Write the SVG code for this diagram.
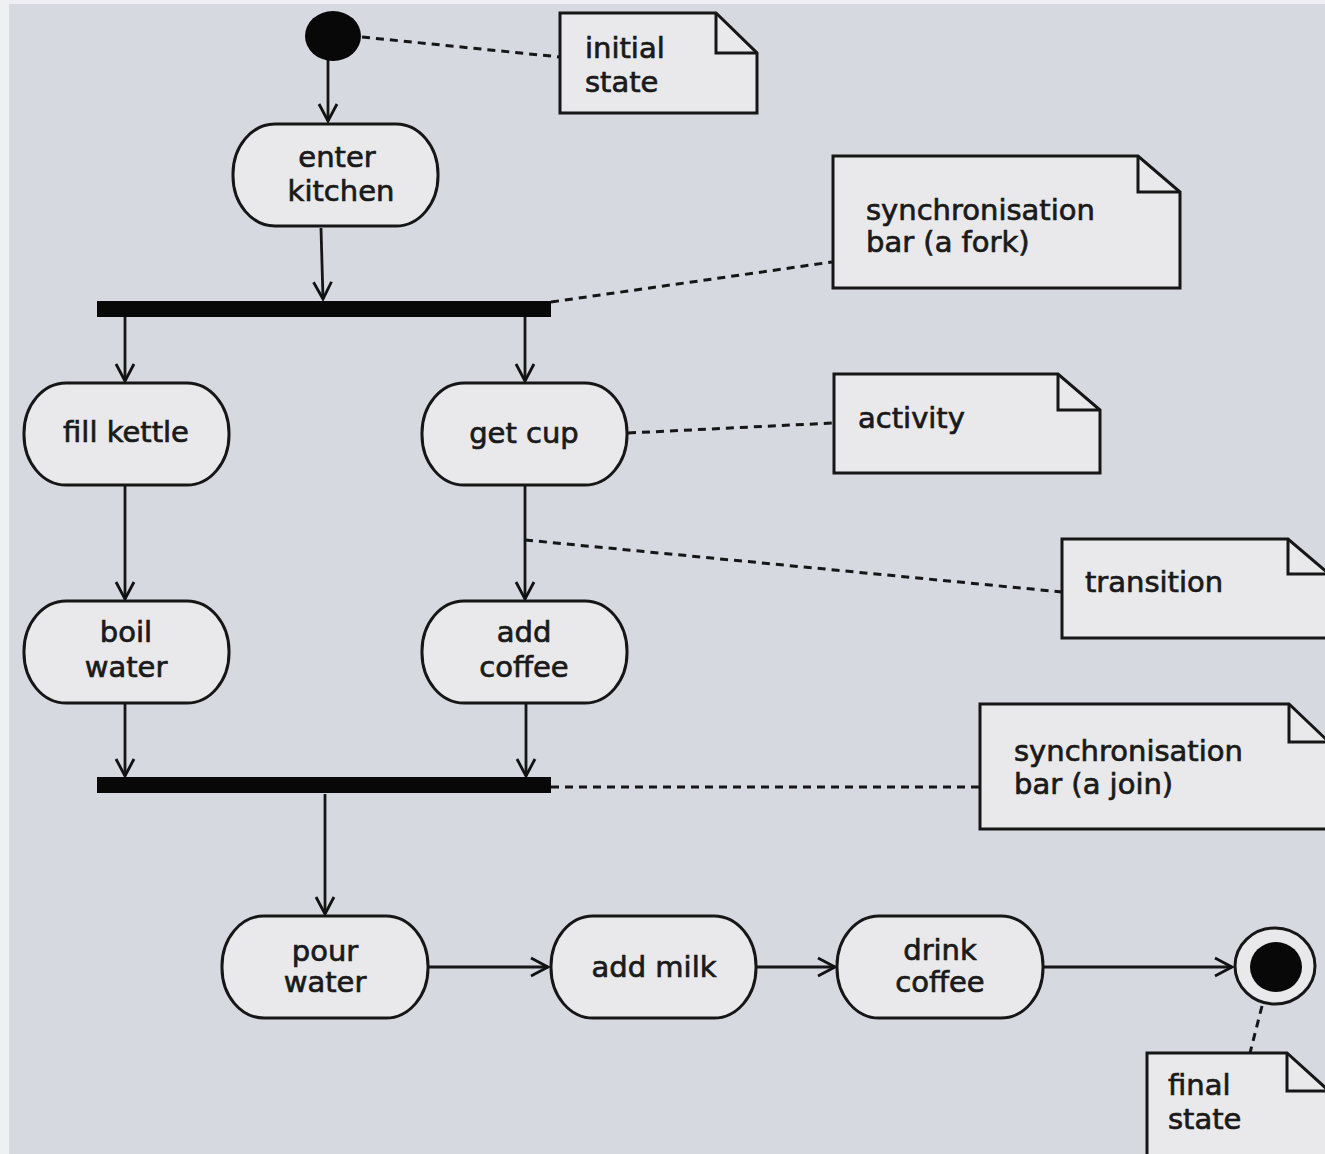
<svg xmlns="http://www.w3.org/2000/svg" width="1325" height="1154" viewBox="0 0 1325 1154">
  <defs>
    <marker id="arrow" viewBox="-20 -12 24 24" refX="0" refY="0" markerWidth="24" markerHeight="24" markerUnits="userSpaceOnUse" orient="auto">
      <path d="M-17,-9 L0,0 L-17,9" fill="none" stroke="#111" stroke-width="2.8" stroke-linejoin="miter"/>
    </marker>
    <style>
      .act { fill: #e9e9eb; stroke: #161616; stroke-width: 3; }
      .note { fill: #e9e9eb; stroke: #161616; stroke-width: 3; stroke-linejoin: miter; }
      .fold { fill: none; stroke: #161616; stroke-width: 3; }
      .flow { fill: none; stroke: #161616; stroke-width: 2.8; marker-end: url(#arrow); }
      .anchor { fill: none; stroke: #161616; stroke-width: 3; stroke-dasharray: 8 6; }
      .bar { fill: #080808; }
      text { font-family: "DejaVu Sans", Verdana, sans-serif; font-size: 29px; fill: #1a1a1a; stroke: #1a1a1a; stroke-width: 0.7; }
      .c { text-anchor: middle; }
    </style>
  </defs>

  <!-- canvas -->
  <rect x="0" y="0" width="1325" height="1154" fill="#eef0f3"/>
  <rect x="9" y="4" width="1316" height="1150" fill="#d6d9e0"/>

  <!-- connectors: transitions and note anchors -->
  <g id="connectors">
    <path class="flow" d="M328,60 L328,121"/>
    <path class="flow" d="M321,228 L323,299"/>
    <path class="flow" d="M125,317 L125,381"/>
    <path class="flow" d="M525,317 L525,381"/>
    <path class="flow" d="M125,486 L125,599"/>
    <path class="flow" d="M525,486 L525,599"/>
    <path class="flow" d="M125,704 L125,776"/>
    <path class="flow" d="M526,704 L526,776"/>
    <path class="flow" d="M325,794 L325,914"/>
    <path class="flow" d="M428,967 L548,967"/>
    <path class="flow" d="M756,967 L835,967"/>
    <path class="flow" d="M1043,967 L1232,967"/>

    <path class="anchor" d="M362,37 L560,57"/>
    <path class="anchor" d="M551,302 L832,262"/>
    <path class="anchor" d="M628,433 L833,423"/>
    <path class="anchor" d="M525,540 L1062,592"/>
    <path class="anchor" d="M551,787 L980,787"/>
    <path class="anchor" d="M1262,1006 L1250,1053"/>
  </g>

  <!-- initial state -->
  <g id="initial-state">
    <ellipse cx="333" cy="36" rx="28" ry="25" fill="#080808"/>
  </g>

  <!-- activities -->
  <g id="enter-kitchen">
    <rect class="act" x="233" y="124" width="205" height="102" rx="42" ry="50"/>
    <text class="c" x="337" y="167">enter</text>
    <text class="c" x="341" y="201">kitchen</text>
  </g>

  <g id="fork-bar">
    <rect class="bar" x="97" y="301" width="454" height="16"/>
  </g>

  <g id="fill-kettle">
    <rect class="act" x="24" y="383" width="205" height="102" rx="42" ry="50"/>
    <text class="c" x="126" y="442">fill kettle</text>
  </g>

  <g id="get-cup">
    <rect class="act" x="422" y="383" width="205" height="102" rx="42" ry="50"/>
    <text class="c" x="524" y="443">get cup</text>
  </g>

  <g id="boil-water">
    <rect class="act" x="24" y="601" width="205" height="102" rx="42" ry="50"/>
    <text class="c" x="126" y="642">boil</text>
    <text class="c" x="126" y="677">water</text>
  </g>

  <g id="add-coffee">
    <rect class="act" x="422" y="601" width="205" height="102" rx="42" ry="50"/>
    <text class="c" x="524" y="642">add</text>
    <text class="c" x="524" y="677">coffee</text>
  </g>

  <g id="join-bar">
    <rect class="bar" x="97" y="777" width="454" height="16"/>
  </g>

  <g id="pour-water">
    <rect class="act" x="222" y="916" width="206" height="102" rx="42" ry="50"/>
    <text class="c" x="325" y="961">pour</text>
    <text class="c" x="325" y="992">water</text>
  </g>

  <g id="add-milk">
    <rect class="act" x="551" y="916" width="205" height="102" rx="42" ry="50"/>
    <text class="c" x="654" y="977">add milk</text>
  </g>

  <g id="drink-coffee">
    <rect class="act" x="837" y="916" width="206" height="102" rx="42" ry="50"/>
    <text class="c" x="940" y="960">drink</text>
    <text class="c" x="940" y="992">coffee</text>
  </g>

  <!-- final state -->
  <g id="final-state">
    <ellipse cx="1275" cy="966" rx="40" ry="38" fill="#e9e9eb" stroke="#161616" stroke-width="3"/>
    <ellipse cx="1276" cy="967" rx="26" ry="25" fill="#080808"/>
  </g>

  <!-- notes -->
  <g id="note-initial-state">
    <path class="note" d="M560,13 L716,13 L757,53 L757,113 L560,113 Z"/>
    <path class="fold" d="M716,13 L716,53 L757,53"/>
    <text x="585" y="58">initial</text>
    <text x="585" y="92">state</text>
  </g>

  <g id="note-fork">
    <path class="note" d="M833,156 L1138,156 L1180,192 L1180,288 L833,288 Z"/>
    <path class="fold" d="M1138,156 L1138,192 L1180,192"/>
    <text x="866" y="220">synchronisation</text>
    <text x="866" y="252">bar (a fork)</text>
  </g>

  <g id="note-activity">
    <path class="note" d="M834,374 L1058,374 L1100,410 L1100,473 L834,473 Z"/>
    <path class="fold" d="M1058,374 L1058,410 L1100,410"/>
    <text x="858" y="428">activity</text>
  </g>

  <g id="note-transition">
    <path class="note" d="M1062,539 L1288,539 L1329,574 L1329,638 L1062,638 Z"/>
    <path class="fold" d="M1288,539 L1288,574 L1329,574"/>
    <text x="1085" y="592">transition</text>
  </g>

  <g id="note-join">
    <path class="note" d="M980,704 L1289,704 L1329,742 L1329,829 L980,829 Z"/>
    <path class="fold" d="M1289,704 L1289,742 L1329,742"/>
    <text x="1014" y="761">synchronisation</text>
    <text x="1014" y="794">bar (a join)</text>
  </g>

  <g id="note-final-state">
    <path class="note" d="M1147,1053 L1287,1053 L1329,1091 L1329,1158 L1147,1158 Z"/>
    <path class="fold" d="M1287,1053 L1287,1091 L1329,1091"/>
    <text x="1168" y="1095">final</text>
    <text x="1168" y="1129">state</text>
  </g>
</svg>
